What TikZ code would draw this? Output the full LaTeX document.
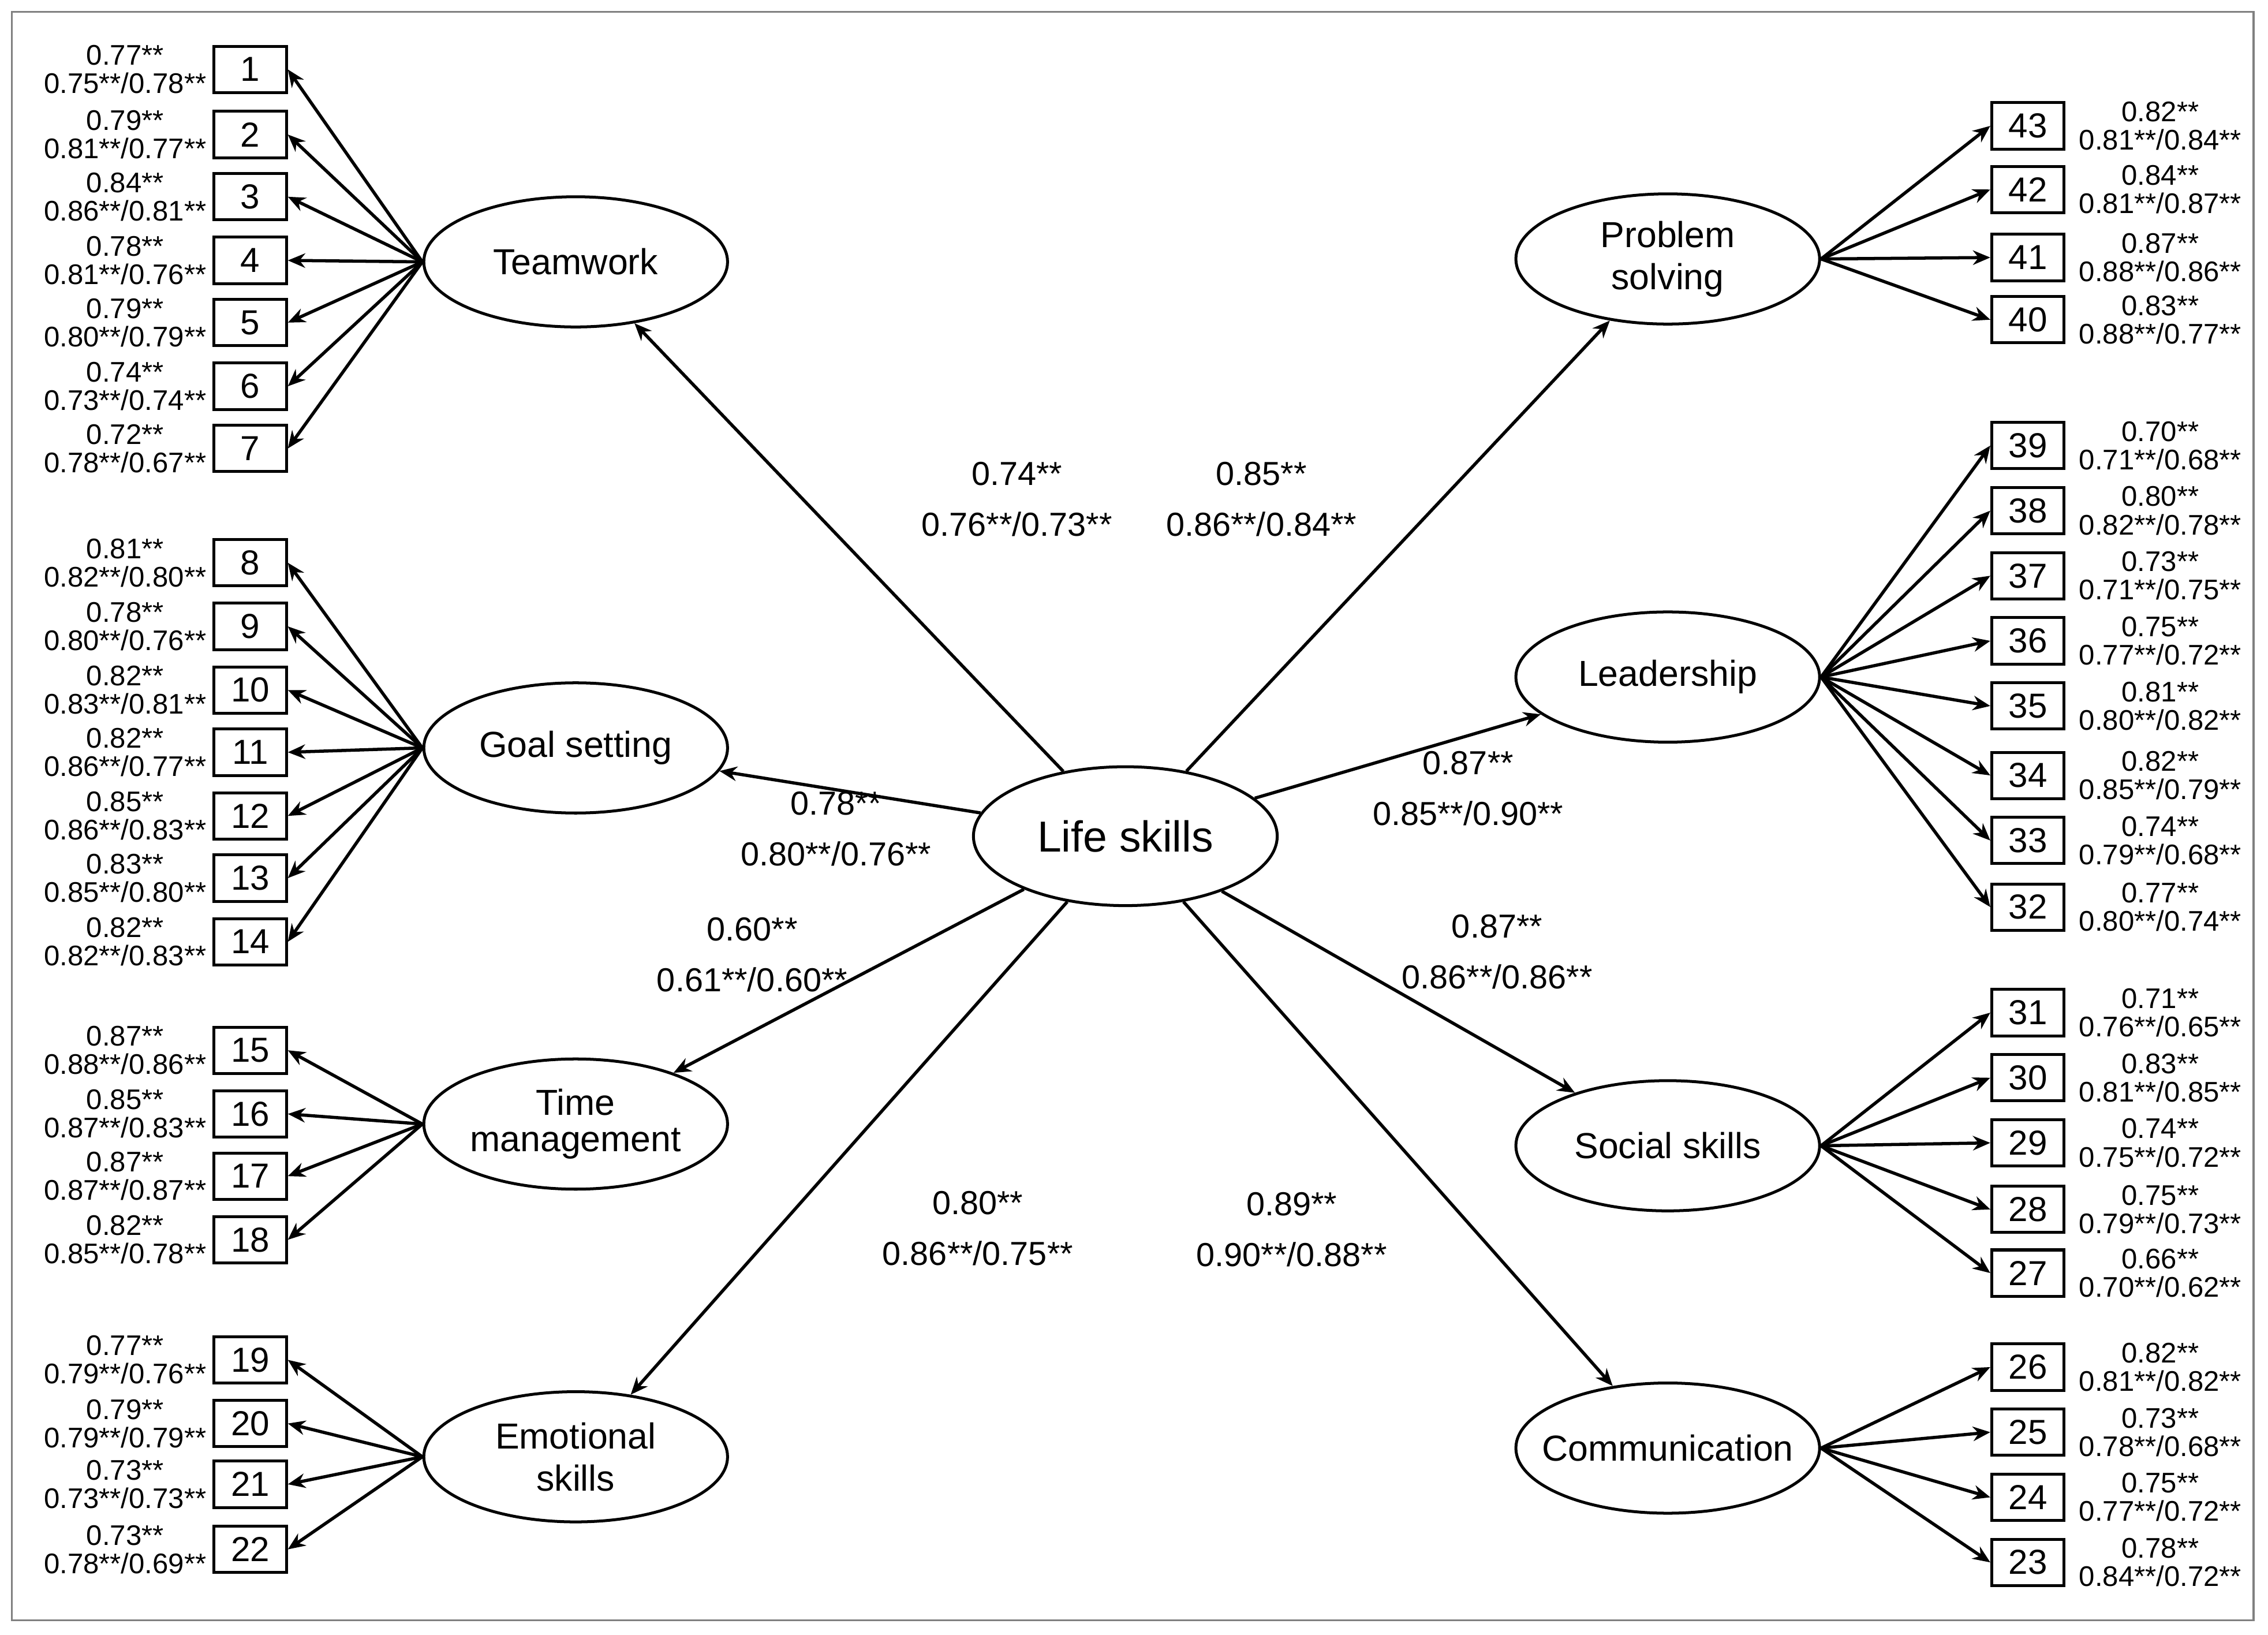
\documentclass[tikz,border=0pt]{standalone}
\usepackage{fontspec}
\setmainfont{Liberation Sans}
\usetikzlibrary{arrows.meta,shapes.geometric}
\begin{document}
\begin{tikzpicture}[x=0.5pt,y=-0.5pt,
 lat/.style={draw,ellipse,line width=1pt,minimum width=105pt,minimum height=45pt,inner sep=0pt,align=center,font=\fontsize{12.5}{14.5}\selectfont},
 ind/.style={draw,line width=1pt,minimum width=25pt,minimum height=16pt,inner sep=0pt,font=\fontsize{12}{14}\selectfont},
 sm/.style={align=center,inner sep=0pt,font=\fontsize{9.8}{9.8}\selectfont},
 pl/.style={align=center,inner sep=0pt,font=\fontsize{11.5}{17.5}\selectfont},
 arr/.style={line width=1.1pt,-{Stealth[length=6pt,width=5pt]}}]
\useasboundingbox (0,0) rectangle (1568,1130);
\fill[white] (0,0) rectangle (1568,1130);
\draw[gray,line width=0.6pt] (8,8) rectangle (1558,1120);
\node[lat,minimum width=105pt,minimum height=48pt,font=\fontsize{15}{17}\selectfont] (L) at (778,578) {Life skills};
\node[lat] (T) at (398,181) {Teamwork};
\node[lat] (G) at (398,517) {Goal setting};
\node[lat] (M) at (398,777) {Time\\[-2pt]management};
\node[lat] (E) at (398,1007) {Emotional\\skills};
\node[lat] (P) at (1153,179) {Problem\\solving};
\node[lat] (D) at (1153,468) {Leadership};
\node[lat] (S) at (1153,792) {Social skills};
\node[lat,inner xsep=-12pt] (C) at (1153,1001) {Communication};
\foreach \f in {T,G,M,E,P,D,S,C} \draw[arr] (L) -- (\f);
\node[pl] at (703,345) {0.74**\\0.76**/0.73**};
\node[pl] at (872,345) {0.85**\\0.86**/0.84**};
\node[pl] at (578,573) {0.78**\\0.80**/0.76**};
\node[pl] at (520,660) {0.60**\\0.61**/0.60**};
\node[pl] at (676,849) {0.80**\\0.86**/0.75**};
\node[pl] at (1015,545) {0.87**\\0.85**/0.90**};
\node[pl] at (1035,658) {0.87**\\0.86**/0.86**};
\node[pl] at (893,850) {0.89**\\0.90**/0.88**};
% left indicators
\foreach \n/\y/\f/\a/\b in {
1/48/T/0.77**/{0.75**/0.78**},2/93/T/0.79**/{0.81**/0.77**},3/136/T/0.84**/{0.86**/0.81**},4/180/T/0.78**/{0.81**/0.76**},5/223/T/0.79**/{0.80**/0.79**},6/267/T/0.74**/{0.73**/0.74**},7/310/T/0.72**/{0.78**/0.67**},
8/389/G/0.81**/{0.82**/0.80**},9/433/G/0.78**/{0.80**/0.76**},10/477/G/0.82**/{0.83**/0.81**},11/520/G/0.82**/{0.86**/0.77**},12/564/G/0.85**/{0.86**/0.83**},13/607/G/0.83**/{0.85**/0.80**},14/651/G/0.82**/{0.82**/0.83**},
15/726/M/0.87**/{0.88**/0.86**},16/770/M/0.85**/{0.87**/0.83**},17/813/M/0.87**/{0.87**/0.87**},18/857/M/0.82**/{0.85**/0.78**},
19/940/E/0.77**/{0.79**/0.76**},20/984/E/0.79**/{0.79**/0.79**},21/1026/E/0.73**/{0.73**/0.73**},22/1071/E/0.73**/{0.78**/0.69**}}{
 \node[ind] (i\n) at (173,\y) {\n};
 \draw[arr] (\f.west) -- (i\n.east);
 \node[sm,anchor=east] at (143,\y) {\a\\\b};
}
% right indicators
\foreach \n/\y/\f/\a/\b in {
43/87/P/0.82**/{0.81**/0.84**},42/131/P/0.84**/{0.81**/0.87**},41/178/P/0.87**/{0.88**/0.86**},40/221/P/0.83**/{0.88**/0.77**},
39/308/D/0.70**/{0.71**/0.68**},38/353/D/0.80**/{0.82**/0.78**},37/398/D/0.73**/{0.71**/0.75**},36/443/D/0.75**/{0.77**/0.72**},35/488/D/0.81**/{0.80**/0.82**},34/536/D/0.82**/{0.85**/0.79**},33/581/D/0.74**/{0.79**/0.68**},32/627/D/0.77**/{0.80**/0.74**},
31/700/S/0.71**/{0.76**/0.65**},30/745/S/0.83**/{0.81**/0.85**},29/790/S/0.74**/{0.75**/0.72**},28/836/S/0.75**/{0.79**/0.73**},27/880/S/0.66**/{0.70**/0.62**},
26/945/C/0.82**/{0.81**/0.82**},25/990/C/0.73**/{0.78**/0.68**},24/1035/C/0.75**/{0.77**/0.72**},23/1080/C/0.78**/{0.84**/0.72**}}{
 \node[ind] (i\n) at (1402,\y) {\n};
 \draw[arr] (\f.east) -- (i\n.west);
 \node[sm,anchor=west] at (1437,\y) {\a\\\b};
}
\end{tikzpicture}
\end{document}
